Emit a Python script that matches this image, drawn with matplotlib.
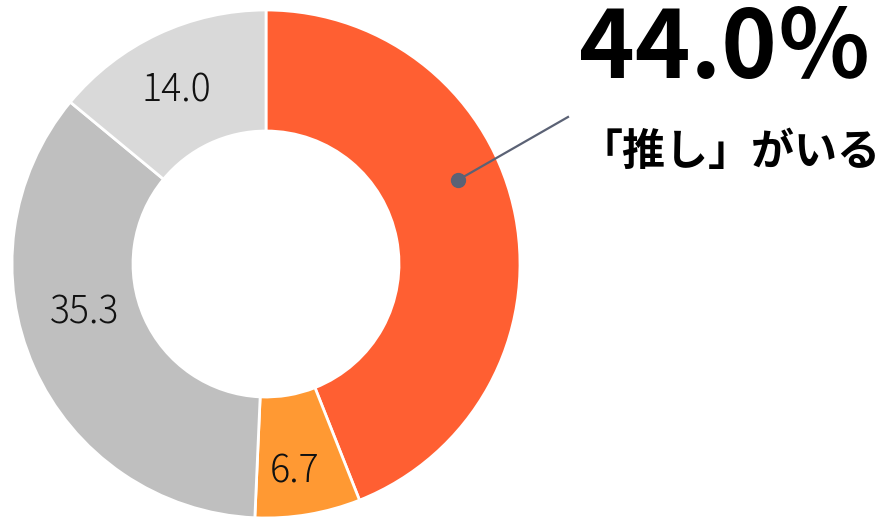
import matplotlib.pyplot as plt

plt.rcParams['font.family'] = ['Noto Sans CJK JP', 'DejaVu Sans']

labels = ['「推し」がいる', 'その他1', 'その他2', 'その他3']
values = [44.0, 6.7, 35.3, 14.0]
colors = ['#FF5F32', '#FF9933', '#BFBFBF', '#D9D9D9']
value_labels = ['', '6.7', '35.3', '14.0']

fig = plt.figure(figsize=(8.8, 5.18), dpi=100)
ax = fig.add_axes([0, 0, 1, 1])

cx, cy, r = 266, 518 - 264, 254
wedges, texts = ax.pie(values, colors=colors, startangle=90, counterclock=False,
                       center=(cx, cy), radius=r, labels=value_labels,
                       labeldistance=0.78,
                       wedgeprops=dict(width=121, edgecolor='white', linewidth=2),
                       textprops=dict(fontsize=27, color='#111111', weight='light'))
# small nudges so labels sit where the original put them
nudges = [(0, 0), (-4, -12), (0, 32), (-5, -6)]
for t, (dx, dy) in zip(texts, nudges):
    x, y = t.get_position()
    t.set_position((x + dx, y + dy))
    t.set_ha('center')
    t.set_va('center')

# callout for the main slice
ax.plot([458, 568], [518 - 180, 518 - 117], color='#5B6275', lw=1.6)
ax.plot(458, 518 - 180, 'o', color='#5B6275', ms=10)

ax.text(725, 518 - 50, '44.0％', fontsize=68, weight='bold', ha='center', va='center')
ax.text(730, 518 - 152, labels[0], fontsize=31, weight='bold', ha='center', va='center')

ax.set_xlim(0, 880)
ax.set_ylim(0, 518)
ax.set_aspect('equal')
ax.axis('off')

fig.savefig('out.png', dpi=100)
